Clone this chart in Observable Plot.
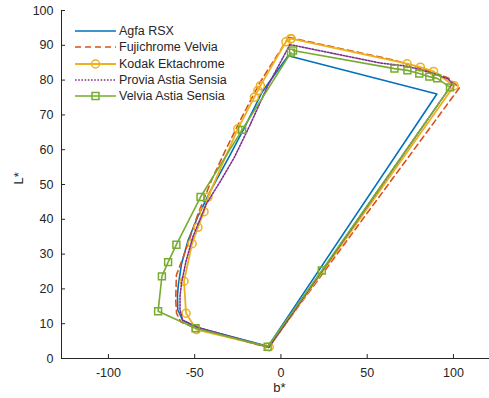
<!DOCTYPE html>
<html><head><meta charset="utf-8">
<script src="https://cdn.jsdelivr.net/npm/d3@7"></script>
<script src="https://cdn.jsdelivr.net/npm/@observablehq/plot@0.6"></script>
<style>
body{margin:0;background:#fff;font-family:"Liberation Sans",Arial,Helvetica,sans-serif;}
#wrap{position:relative;width:489px;height:398px;}
#legend{position:absolute;left:75px;top:23px;font-size:12.5px;color:#262626;}
.row{display:flex;align-items:center;height:16.3px;white-space:nowrap;}
.row svg{margin-right:3px;display:block;}
</style></head><body>
<div id="wrap"><div id="legend"></div></div>
<script>
// ---- data ----
const seriesNames = ["Agfa RSX", "Fujichrome Velvia", "Kodak Ektachrome", "Provia Astia Sensia", "Velvia Astia Sensia"];
const seriesColors = ["#0072BD", "#D95319", "#EDB120", "#7E2F8E", "#77AC30"];
const xTicks = [-100, -50, 0, 50, 100];
const yTicks = [0, 10, 20, 30, 40, 50, 60, 70, 80, 90, 100];
const xDomain = [-127.2, 120.9];
const yDomain = [0, 100];

const agfaB = [4.2, 90.4, -7.5, -48, -57, -59.8, -60, -59.5, -57.7, -53.8, -48, -41, -30, -21.5, -11, 4.2];
const agfaL = [87, 76, 3.5, 8.8, 11, 14, 18, 21, 27, 34, 41, 48, 58, 66, 76.5, 87];

const fujiB = [4.5, 35, 65.2, 88, 97, 103.5, -7.3, -49, -58, -60.5, -61, -60.6, -56.7, -48, -40, -32, -23, -12, 4.5];
const fujiL = [92.3, 89, 85.8, 82.3, 80.6, 77.8, 3.2, 8.6, 10.5, 13, 17, 24, 29, 41.6, 51.5, 60, 69, 79.5, 92.3];

const kodakB = [5.8, 73.1, 80.8, 88.5, 100.4, -6.8, -49, -55, -56.2, -51.5, -48.1, -44.6, -42.3, -25, -15.4, -13.4, -11.9, 2.9, 5.8];
const kodakL = [91.9, 84.7, 83.7, 82.5, 78.4, 3.3, 8.3, 13, 22.2, 33, 37.7, 42.2, 46.4, 66, 75.1, 77, 78.4, 91, 91.9];

const proviaB = [5.2, 57.7, 73, 88, 97, 99.5, -7, -48, -57, -58.5, -58.5, -57.5, -55, -51, -43.3, -35, -27, -18, -8, 5.2];
const proviaL = [90.2, 84.9, 84, 82, 80.3, 79, 3.2, 8.9, 11, 14, 18, 22, 28, 35, 44.4, 51, 57.8, 67, 78, 90.2];

const velviaB = [7, 65.8, 73.3, 80.2, 86, 90.6, 98, 23.7, -7.7, -49.5, -71.2, -69, -65.4, -60.6, -46.6, -22.5, 5.8];
const velviaL = [88.5, 83.3, 82.8, 81.9, 81, 80.5, 77.9, 25.3, 3.4, 8.7, 13.6, 23.6, 27.7, 32.7, 46.4, 65.7, 87.9];

// ---- build table ----
const seriesB = [agfaB, fujiB, kodakB, proviaB, velviaB];
const seriesL = [agfaL, fujiL, kodakL, proviaL, velviaL];
const rows = [];
seriesNames.forEach((name, s) => {
  seriesB[s].forEach((b, i) => rows.push({series: name, b, L: seriesL[s][i], i}));
});
const of = name => rows.filter(d => d.series === name);

const ink = "#262626";
const styles = [
  {strokeDasharray: null, width: 1.6},
  {strokeDasharray: "6,4", width: 1.6},
  {strokeDasharray: null, width: 1.8},
  {strokeDasharray: "1.6,1.6", width: 1.6},
  {strokeDasharray: null, width: 1.6}
];

const lineMarks = seriesNames.map((name, s) => Plot.line(of(name), {
  x: "b", y: "L", stroke: seriesColors[s], strokeWidth: styles[s].width,
  strokeDasharray: styles[s].strokeDasharray, curve: "linear"
}));

const chart = Plot.plot({
  width: 489, height: 398,
  marginLeft: 61, marginRight: 0, marginTop: 10, marginBottom: 40,
  style: {fontFamily: '"Liberation Sans", Arial, Helvetica, sans-serif', fontSize: "12.5px", color: ink, background: "#fff"},
  x: {domain: xDomain},
  y: {domain: yDomain},
  marks: [
    Plot.ruleY([yDomain[0]], {stroke: ink, strokeWidth: 1}),
    Plot.ruleX([xDomain[0]], {stroke: ink, strokeWidth: 1}),
    Plot.axisX({ticks: xTicks, tickSize: -4, text: null, stroke: ink, label: null}),
    Plot.axisX({ticks: xTicks, tickSize: 0, tickPadding: 10, fill: ink, label: null, tickFormat: d => d < 0 ? "-" + Math.abs(d) : String(d)}),
    Plot.axisY({ticks: yTicks, tickSize: -4, text: null, stroke: ink, label: null}),
    Plot.axisY({ticks: yTicks, tickSize: 0, tickPadding: 8, fill: ink, label: null}),
    lineMarks[0], lineMarks[1], lineMarks[2],
    Plot.dot(of(seriesNames[2]), {x: "b", y: "L", r: 4, stroke: seriesColors[2], strokeWidth: 1.5, fill: "none"}),
    lineMarks[3], lineMarks[4],
    Plot.dot(of(seriesNames[4]), {x: "b", y: "L", r: 3.9, symbol: "square", stroke: seriesColors[4], strokeWidth: 1.5, fill: "none"}),
    Plot.text(["b*"], {frameAnchor: "bottom", dx: 4, dy: 24, lineAnchor: "top", fill: ink, fontSize: 13}),
    Plot.text(["L*"], {frameAnchor: "left", dx: -43, rotate: -90, fill: ink, fontSize: 13})
  ]
});
document.getElementById("wrap").prepend(chart);

// ---- legend ----
const legend = document.getElementById("legend");
seriesNames.forEach((name, s) => {
  const row = document.createElement("div");
  row.className = "row";
  const dash = styles[s].strokeDasharray ? `stroke-dasharray="${styles[s].strokeDasharray}"` : "";
  let marker = "";
  if (s === 2) marker = `<circle cx="20.5" cy="6" r="4" fill="none" stroke="${seriesColors[s]}" stroke-width="1.5"/>`;
  if (s === 4) marker = `<rect x="17" y="2.5" width="7" height="7" fill="none" stroke="${seriesColors[s]}" stroke-width="1.5"/>`;
  row.innerHTML = `<svg width="41" height="12"><line x1="0" x2="41" y1="6" y2="6" stroke="${seriesColors[s]}" stroke-width="${styles[s].width}" ${dash}/>${marker}</svg><span>${name}</span>`;
  legend.appendChild(row);
});
</script>
</body></html>
